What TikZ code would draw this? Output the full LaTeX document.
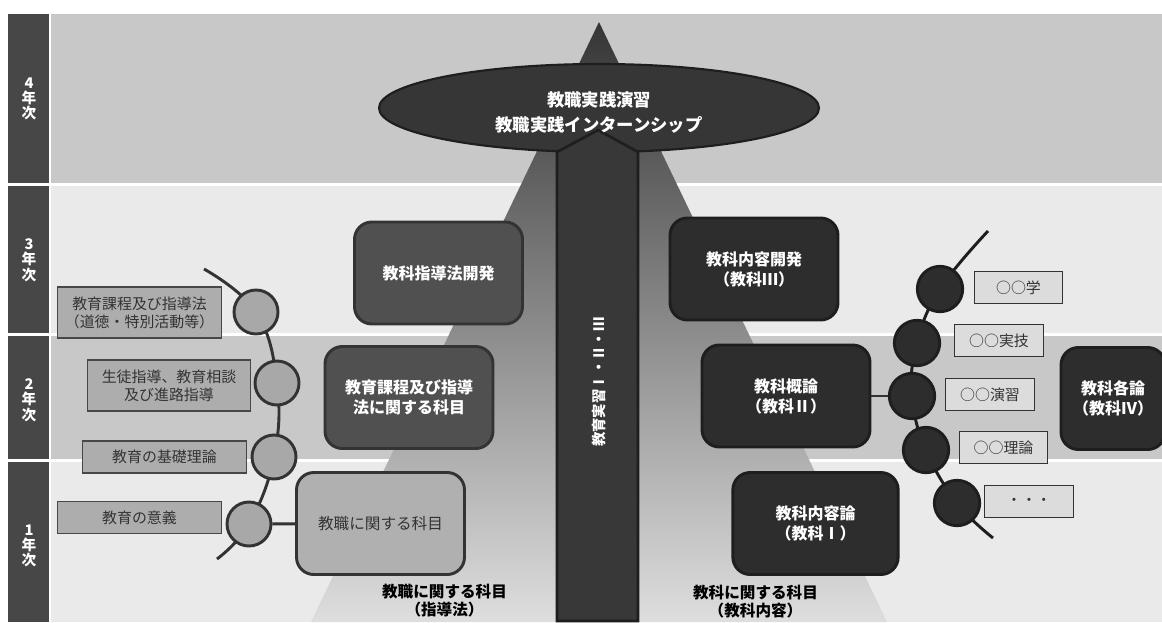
\documentclass[tikz,border=0pt]{standalone}
\usepackage{fontspec}
\setmainfont{Noto Sans CJK JP}
\usetikzlibrary{shapes.geometric}

\definecolor{bandD}{HTML}{C8C8C8}
\definecolor{bandL}{HTML}{EAEAEA}
\definecolor{yearcol}{HTML}{474747}
\definecolor{darkbox}{HTML}{2D2D2D}
\definecolor{darkline}{HTML}{1E1E1E}
\definecolor{midbox}{HTML}{505050}
\definecolor{lightbox}{HTML}{B0B0B0}
\definecolor{textgray}{HTML}{333333}
\definecolor{lbox}{HTML}{ADADAD}
\definecolor{rbox}{HTML}{DCDCDC}
\definecolor{circL}{HTML}{A8A8A8}
\definecolor{triTop}{HTML}{353535}
\definecolor{triBot}{HTML}{DEDEDE}
\definecolor{ellfill}{HTML}{363636}
\definecolor{arrfill}{HTML}{383838}

\begin{document}
\begin{tikzpicture}[x=0.75pt,y=-0.75pt,
  yearlbl/.style={text=white, font=\bfseries\fontsize{11}{11.5}\selectfont, align=center, inner sep=0pt},
  bigbox/.style={rectangle, rounded corners=13pt, line width=2.2pt, minimum width=126pt, minimum height=76.5pt, align=center, inner sep=0pt},
  darkstyle/.style={bigbox, fill=darkbox, draw=darkline, text=white, font=\bfseries\fontsize{12}{15}\selectfont},
  midstyle/.style={bigbox, fill=midbox, draw=textgray, text=white, font=\bfseries\fontsize{12}{15}\selectfont},
  lightstyle/.style={bigbox, fill=lightbox, draw=textgray, text=textgray, font=\fontsize{11.7}{14}\selectfont},
  lcirc/.style={circle, minimum size=33pt, inner sep=0pt, fill=circL, draw=textgray, line width=2.2pt},
  rcirc/.style={circle, minimum size=34pt, inner sep=0pt, fill=darkbox, draw=darkline, line width=2.2pt},
  llabel/.style={rectangle, fill=lbox, draw=textgray!90, line width=0.9pt, minimum width=122.5pt, align=center, inner sep=0pt, text=textgray, font=\fontsize{11.2}{13.5}\selectfont},
  rlabel/.style={rectangle, fill=rbox, draw=textgray, line width=0.9pt, minimum width=66.5pt, minimum height=23.5pt, align=center, inner sep=0pt, text=textgray, font=\fontsize{11.2}{13.5}\selectfont},
  botlbl/.style={align=center, inner sep=0pt, text=black, font=\bfseries\fontsize{11.7}{13.5}\selectfont},
  chainL/.style={draw=textgray, line width=2.2pt},
  chainR/.style={draw=darkline, line width=2.2pt}
]
\useasboundingbox (0,0) rectangle (1162,622);
\fill[white] (0,0) rectangle (1162,622);

% bands
\fill[bandD] (51,14) rectangle (1162,183);
\fill[bandL] (51,186) rectangle (1162,333);
\fill[bandD] (51,336) rectangle (1162,459);
\fill[bandL] (51,462) rectangle (1162,622);

% year column
\fill[yearcol] (8,14) rectangle (49,183);
\fill[yearcol] (8,186) rectangle (49,333);
\fill[yearcol] (8,336) rectangle (49,459);
\fill[yearcol] (8,462) rectangle (49,622);
\node[yearlbl] (y4) at (29,99) {4\\年\\次};
\node[yearlbl] (y3) at (29,260) {3\\年\\次};
\node[yearlbl] (y2) at (29,400) {2\\年\\次};
\node[yearlbl] (y1) at (29,546) {1\\年\\次};

% pyramid
\shade[top color=triTop, bottom color=triBot] (599,22) -- (887,622) -- (311,622) -- cycle;

% ellipse
\node[ellipse, fill=ellfill, draw=darkline, line width=1.6pt, minimum width=330pt, minimum height=66pt, inner sep=0pt] (ell) at (599,108) {};

% central arrow
\draw[fill=arrfill, draw=darkline, line width=2pt] (557,152) -- (598,130) -- (638,152) -- (638,621) -- (557,621) -- cycle;

\node[align=center, inner sep=0pt, text=white, font=\bfseries\fontsize{13}{18.75}\selectfont] (elltxt) at (599,112.5) {教職実践演習\\教職実践インターンシップ};
\node[rotate=90, inner sep=0pt, text=white, font=\bfseries\fontsize{10.8}{12}\selectfont] (jisshu) at (599,382) {教育実習Ⅰ・Ⅱ・Ⅲ};

% left big boxes
\node[midstyle] (shidoho) at (438.5,273) {教科指導法開発};
\node[midstyle] (katei) at (409,397.5) {教育課程及び指導\\法に関する科目};
\node[lightstyle] (kyoshoku) at (380.5,523.5) {教職に関する科目};

% right big boxes
\node[darkstyle] (naiyokaihatsu) at (754,269) {教科内容開発\\（教科Ⅲ）};
\node[darkstyle] (gairon) at (786,396) {教科概論\\（教科Ⅱ）};
\node[darkstyle, minimum width=124pt] (naiyoron) at (815.5,523.5) {教科内容論\\（教科Ⅰ）};
\node[darkstyle, minimum width=78pt] (kakuron) at (1113,398.5) {教科各論\\（教科Ⅳ）};

% left chain
\coordinate (ltop) at (204,269);
\coordinate (lbot) at (217,559);
\coordinate (pL1) at (256,312);
\coordinate (pL2) at (277,383);
\coordinate (pL3) at (274,457);
\coordinate (pL4) at (249,524);
\draw[chainL] plot[smooth, tension=0.7] coordinates {(ltop) (pL1) (pL2) (pL3) (pL4) (lbot)};
\node[lcirc] (L1) at (pL1) {};
\node[lcirc] (L2) at (pL2) {};
\node[lcirc] (L3) at (pL3) {};
\node[lcirc] (L4) at (pL4) {};
\draw[chainL] (L4) -- (kyoshoku);

% right chain
\coordinate (rtop) at (988,231);
\coordinate (rbot) at (993,538);
\coordinate (pR1) at (940,289);
\coordinate (pR2) at (917,343);
\coordinate (pR3) at (912,396);
\coordinate (pR4) at (926,450);
\coordinate (pR5) at (957,503);
\draw[chainR] plot[smooth, tension=0.7] coordinates {(rtop) (pR1) (pR2) (pR3) (pR4) (pR5) (rbot)};
\draw[draw=textgray, line width=1.3pt] (gairon) -- (pR3);
\node[rcirc] (R1) at (pR1) {};
\node[rcirc] (R2) at (pR2) {};
\node[rcirc] (R3) at (pR3) {};
\node[rcirc] (R4) at (pR4) {};
\node[rcirc] (R5) at (pR5) {};

% left labels
\node[llabel, minimum height=38.25pt] (lb1) at (139.5,312.5) {教育課程及び指導法\\（道徳・特別活動等）};
\node[llabel, minimum height=38.25pt] (lb2) at (169,385.5) {生徒指導、教育相談\\及び進路指導};
\node[llabel, minimum height=24pt] (lb3) at (164.5,457) {教育の基礎理論};
\node[llabel, minimum height=23.5pt] (lb4) at (139.5,517.5) {教育の意義};

% right labels
\node[rlabel] (rb1) at (1018.5,287.5) {○○学};
\node[rlabel] (rb2) at (999,340.5) {○○実技};
\node[rlabel] (rb3) at (990,394.5) {○○演習};
\node[rlabel] (rb4) at (1003.5,447.5) {○○理論};
\node[rlabel] (rb5) at (1029,501.5) {・・・};

% bottom labels
\node[botlbl] (botL) at (444.5,601) {教職に関する科目\\（指導法）};
\node[botlbl] (botR) at (755.5,601.5) {教科に関する科目\\（教科内容）};
\end{tikzpicture}
\end{document}
